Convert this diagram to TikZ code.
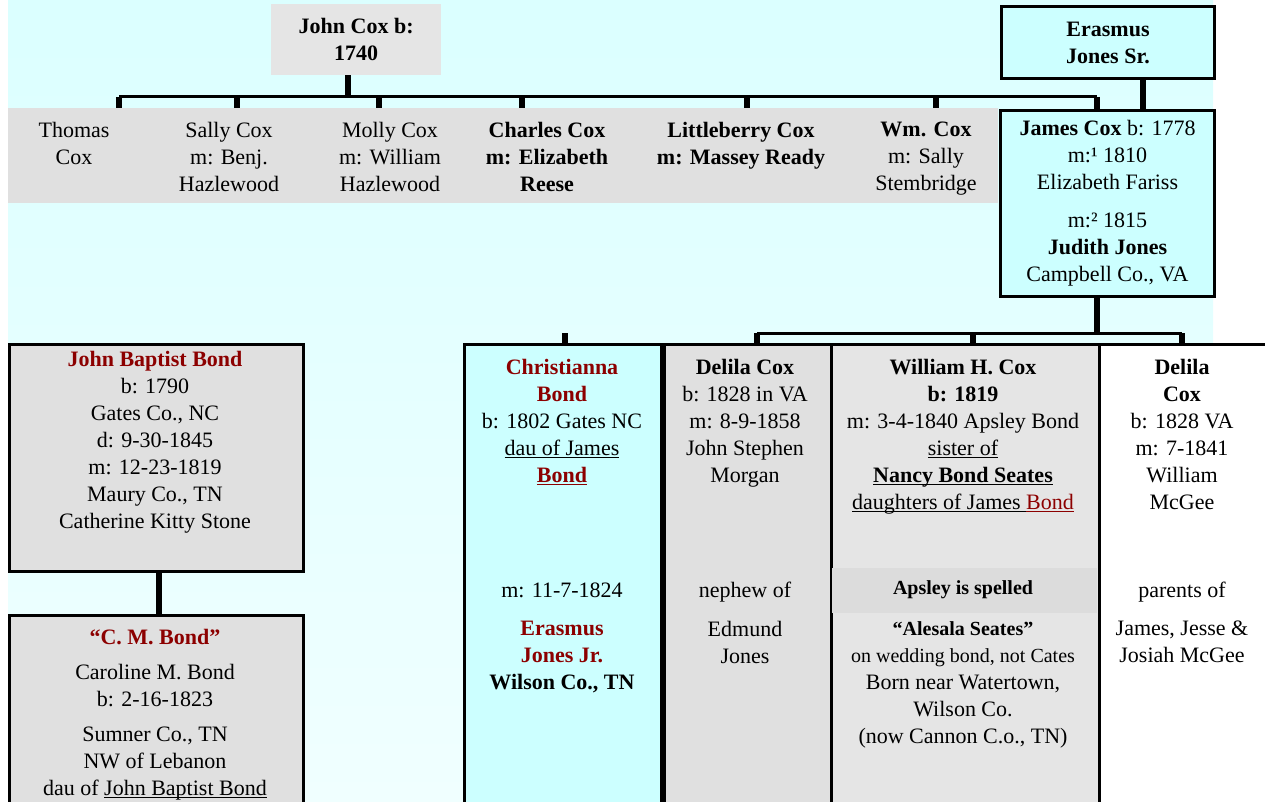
\documentclass[tikz,border=0pt]{standalone}
\usepackage{fontspec}
\setmainfont{Liberation Serif}
\usetikzlibrary{positioning,calc}

\definecolor{skytop}{RGB}{219,255,255}
\definecolor{skybot}{RGB}{240,255,255}
\definecolor{boxcyan}{RGB}{204,255,255}
\definecolor{boxgray}{RGB}{224,224,224}
\definecolor{lightgray}{RGB}{229,229,229}
\definecolor{notegray}{RGB}{220,220,220}
\definecolor{bondred}{RGB}{140,0,0}

\newcommand{\nm}[1]{\textbf{\textcolor{bondred}{#1}}}
\newcommand{\sm}{\fontsize{20}{26}\selectfont}
\newcommand{\ulin}[1]{\underline{\smash{#1}}}

\begin{document}
\begin{tikzpicture}[x=1pt,y=-1pt,
    cell/.style={inner sep=0,anchor=north west},
    person/.style={cell,draw,line width=3pt},
    txt/.style={align=center,font=\fontsize{22}{27}\selectfont},
    t/.style={txt,anchor=north,inner sep=0,execute at begin node=\strut},
    bar/.style={line width=3pt},
    drop/.style={line width=6pt}]
  \useasboundingbox (0,0) rectangle (1265,801);
  \clip (0,0) rectangle (1265,801);
  % background
  \shade[top color=skytop,bottom color=skybot] (8,0) rectangle (1213,801);

  % John Cox and his children
  \node[cell,fill=lightgray,minimum width=170,minimum height=71,txt] (jcox) at (271,4)
    {\textbf{John Cox b:}\\\textbf{1740}};
  \node[cell,fill=boxgray,minimum width=990,minimum height=95] (band) at (8,108) {};
  \node[t] (thomas) at (74,122) {Thomas\\Cox};
  \node[t] (sally) at (229,122) {Sally Cox\\m: Benj.\\Hazlewood};
  \node[t] (molly) at (390,122) {Molly Cox\\m: William\\Hazlewood};
  \node[t] (charles) at (547,122) {\textbf{Charles Cox}\\\textbf{m: Elizabeth}\\\textbf{Reese}};
  \node[t] (littleb) at (741,122) {\textbf{Littleberry Cox}\\\textbf{m: Massey Ready}};
  \node[t] (wm) at (926,122) {\textbf{Wm. Cox}\\m: Sally\\Stembridge};

  \node[person,fill=boxcyan,minimum width=213,minimum height=72,txt] (erasmus) at (1000,5)
    {\textbf{Erasmus}\\\textbf{Jones Sr.}};
  \node[person,fill=boxcyan,minimum width=214,minimum height=186,txt] (james) at (999,109)
    {\textbf{James Cox} b: 1778\\m:¹ 1810\\Elizabeth Fariss\\[11pt]m:² 1815\\\textbf{Judith Jones}\\Campbell Co., VA};

  \draw[drop] ([xshift=-8pt]jcox.south) -- ++(0,21.5) coordinate (kids);
  \draw[bar] (119,0 |- kids) -- (1097,0 |- kids);
  \foreach \x in {119,237,379,522,747,936}
    \draw[drop] (\x,0 |- kids) -- (\x,0 |- band.north);
  \draw[drop] (1097,0 |- kids) -- (1097,0 |- james.north);
  \draw[drop] (1143,0 |- erasmus.south) -- (1143,0 |- james.north);

  % Bond side
  \node[person,fill=boxgray,minimum width=294,minimum height=227] (jbb) at (8,343) {};
  \node[person,fill=boxgray,minimum width=294,minimum height=200] (cmb) at (8,614) {};
  \node[t] at (155,351) {\nm{John Baptist Bond}\\b: 1790\\Gates Co., NC\\d: 9-30-1845\\m: 12-23-1819\\Maury Co., TN\\Catherine Kitty Stone};
  \node[t] at (155,629) {\nm{“C. M. Bond”}\\[8pt]Caroline M. Bond\\b: 2-16-1823\\[8pt]Sumner Co., TN\\NW of Lebanon\\dau of \ulin{John Baptist Bond}};
  \draw[drop] ([xshift=2pt]jbb.south) -- ([xshift=2pt]cmb.north);

  % children of James Cox
  \node[person,fill=boxcyan,minimum width=197,minimum height=470] (chris) at (463,343) {};
  \node[person,fill=boxgray,minimum width=170,minimum height=470] (delila) at (660,343) {};
  \node[person,fill=lightgray,minimum width=268,minimum height=470] (william) at (830,343) {};
  \node[cell,fill=notegray,minimum width=265,minimum height=45] (spell) at (831.5,568) {};
  \node[person,fill=white,minimum width=180,minimum height=470] (delila2) at (1098,343) {};
  \draw[line width=6pt] (chris.north east) -- (chris.south east);

  \node[t] at (562,359) {\nm{Christianna}\\\nm{Bond}\\b: 1802 Gates NC\\\ulin{dau of James}\\\textcolor{bondred}{\ulin{\textbf{Bond}}}};
  \node[t] at (562,578) {m: 11-7-1824};
  \node[t] at (562,621) {\nm{Erasmus}\\\nm{Jones Jr.}\\\textbf{Wilson Co., TN}};

  \node[t] at (745,359) {\textbf{Delila Cox}\\b: 1828 in VA\\m: 8-9-1858\\John Stephen\\Morgan};
  \node[t] at (745,578) {nephew of};
  \node[t] at (745,621) {Edmund\\Jones};

  \node[t] at (963,359) {\textbf{William H. Cox}\\\textbf{b: 1819}\\m: 3-4-1840 Apsley Bond\\\ulin{sister of}\\\ulin{\textbf{Nancy Bond Seates}}\\\ulin{daughters of James }\textcolor{bondred}{\ulin{Bond}}};
  \node[t] at (963,575.5) {{\sm\textbf{Apsley is spelled}}};
  \node[t] at (963,621.5) {{\sm\textbf{“Alesala Seates”}}\\{\sm on wedding bond, not Cates}\\Born near Watertown,\\Wilson Co.\\(now Cannon C.o., TN)};

  \node[t] at (1182,359) {\textbf{Delila}\\\textbf{Cox}\\b: 1828 VA\\m: 7-1841\\William\\McGee};
  \node[t] at (1182,578) {parents of};
  \node[t] at (1182,621) {James, Jesse \&\\Josiah McGee};

  \draw[drop] (1097,0 |- james.south) -- (1097,333) coordinate (heirs);
  \draw[bar] (757,0 |- heirs) -- (1182,0 |- heirs);
  \foreach \x in {757,973,1182}
    \draw[drop] (\x,0 |- heirs) -- (\x,0 |- delila.north);
  \draw[drop] (565,0 |- chris.north) -- ++(0,-10);
\end{tikzpicture}
\end{document}
